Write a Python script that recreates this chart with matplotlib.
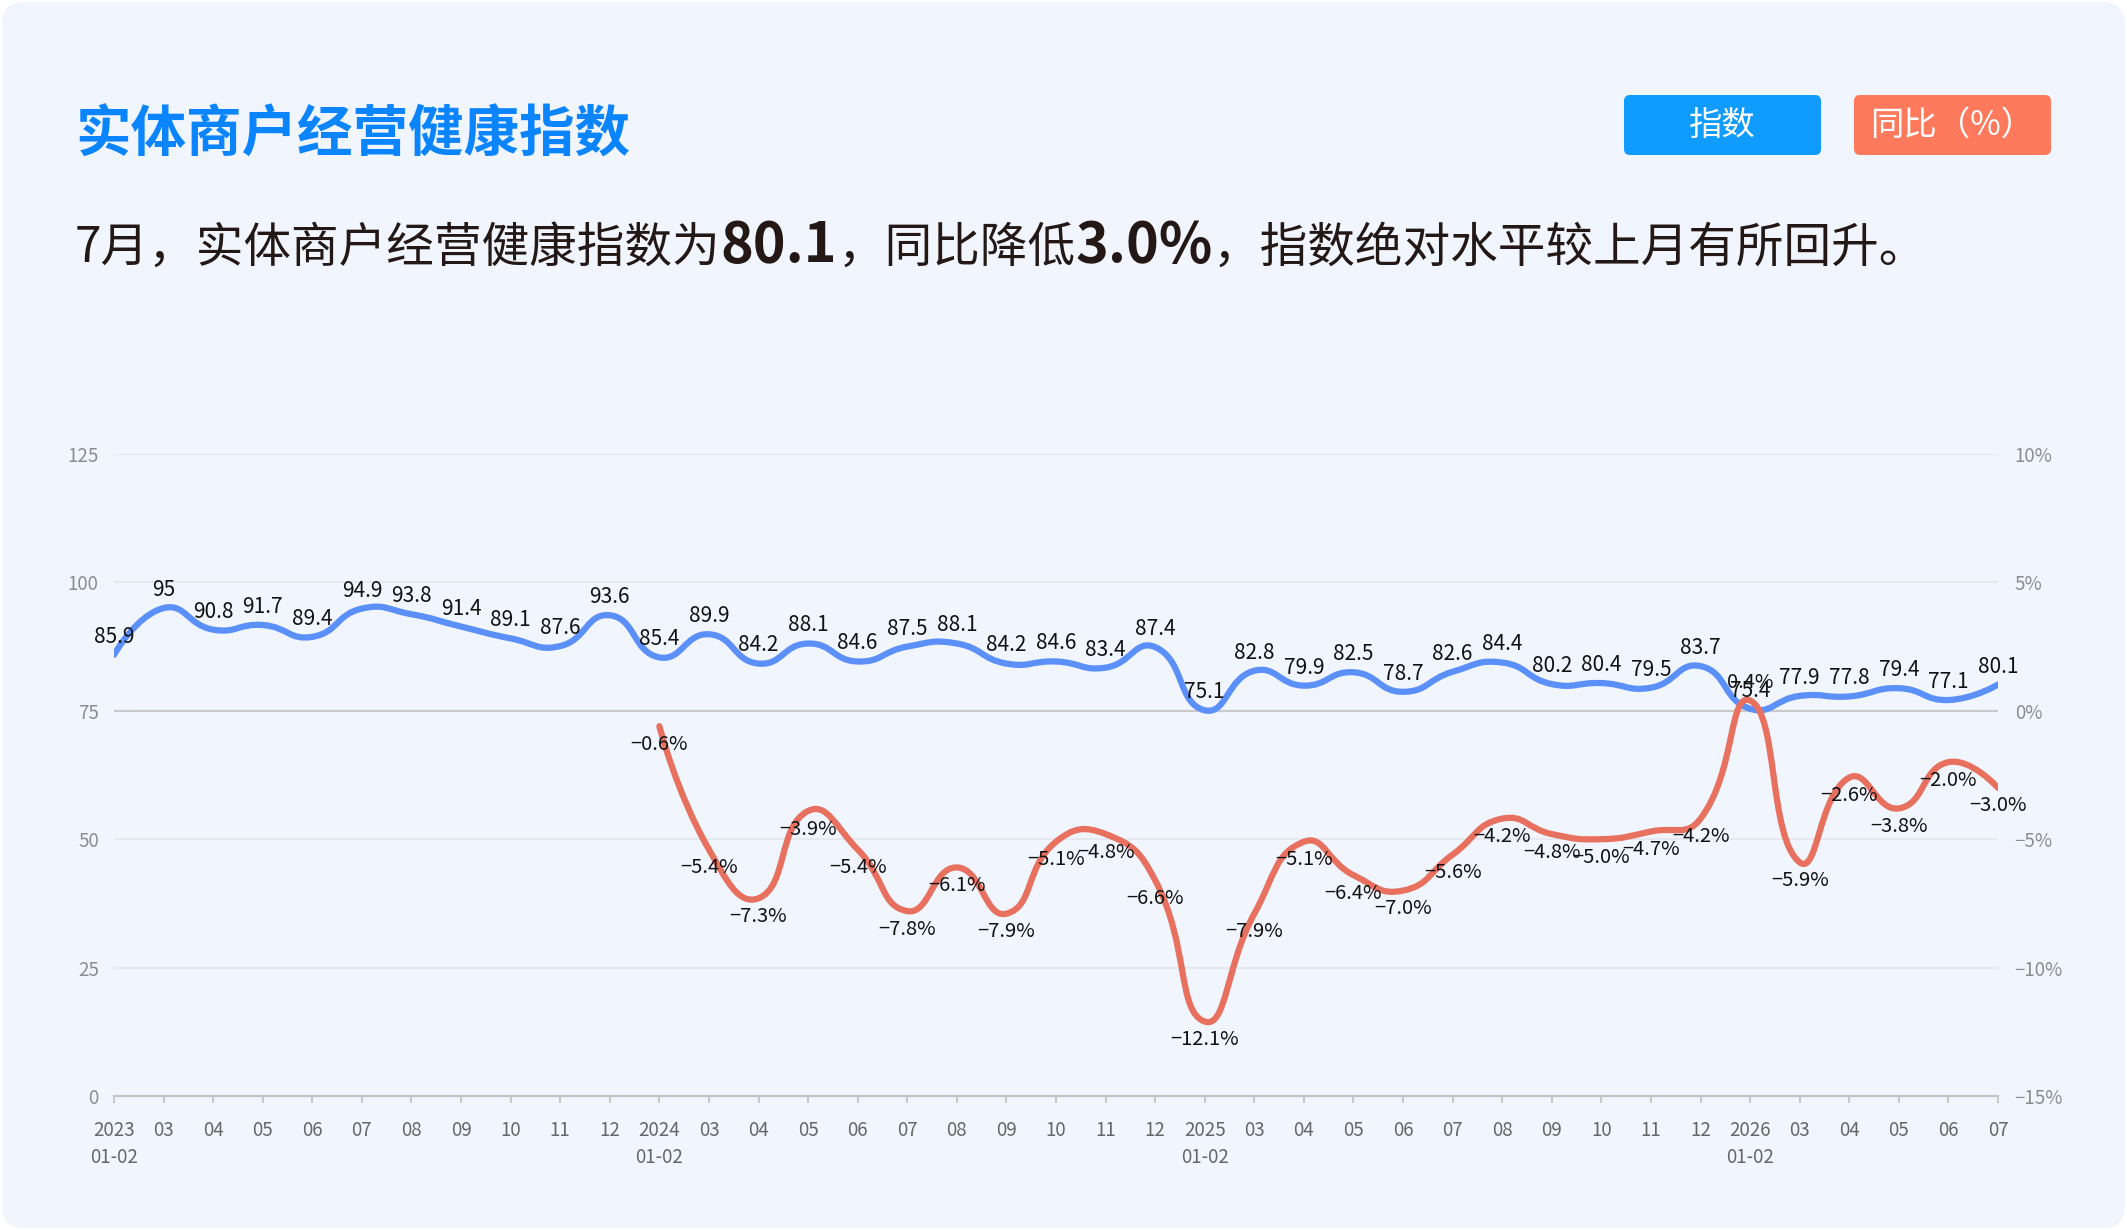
import matplotlib
matplotlib.use("Agg")
import matplotlib.pyplot as plt
import numpy as np
from matplotlib.patches import FancyBboxPatch, PathPatch
from matplotlib.path import Path
from matplotlib.transforms import IdentityTransform

plt.rcParams['font.family'] = ['Noto Sans CJK SC', 'DejaVu Sans']

# ---- data ----
months = ['2023\n01-02', '03', '04', '05', '06', '07', '08', '09', '10', '11', '12',
          '2024\n01-02', '03', '04', '05', '06', '07', '08', '09', '10', '11', '12',
          '2025\n01-02', '03', '04', '05', '06', '07', '08', '09', '10', '11', '12',
          '2026\n01-02', '03', '04', '05', '06', '07']
index_vals = [85.9, 95, 90.8, 91.7, 89.4, 94.9, 93.8, 91.4, 89.1, 87.6, 93.6,
              85.4, 89.9, 84.2, 88.1, 84.6, 87.5, 88.1, 84.2, 84.6, 83.4, 87.4,
              75.1, 82.8, 79.9, 82.5, 78.7, 82.6, 84.4, 80.2, 80.4, 79.5, 83.7,
              75.4, 77.9, 77.8, 79.4, 77.1, 80.1]
yoy_start = 11  # yoy series begins at 2024 01-02
yoy_vals = [-0.6, -5.4, -7.3, -3.9, -5.4, -7.8, -6.1, -7.9, -5.1, -4.8, -6.6,
            -12.1, -7.9, -5.1, -6.4, -7.0, -5.6, -4.2, -4.8, -5.0, -4.7, -4.2,
            0.4, -5.9, -2.6, -3.8, -2.0, -3.0]

BLUE = '#5B8FF9'
RED = '#E8705E'


def smooth_path(xs, ys, sx, sy, smooth=0.5):
    # bezier control points like echarts' smooth line, computed in pixel space
    px = np.asarray(xs, float) * sx
    py = np.asarray(ys, float) * sy
    n = len(px)
    verts = [(px[0], py[0])]
    codes = [Path.MOVETO]
    cp0 = (px[0], py[0])
    for i in range(1, n):
        x, y = px[i], py[i]
        prevx, prevy = px[i - 1], py[i - 1]
        if i + 1 < n:
            nx, ny = px[i + 1], py[i + 1]
            vx, vy = nx - prevx, ny - prevy
            lp = np.hypot(x - prevx, y - prevy)
            ln = np.hypot(nx - x, ny - y)
            r = ln / (ln + lp)
            ncp = (x - vx * smooth * (1 - r), y - vy * smooth * (1 - r))
        else:
            vx = vy = 0
            r = 0.5
            ncp = (x, y)
        verts += [cp0, ncp, (x, y)]
        codes += [Path.CURVE4] * 3
        cp0 = (x + vx * smooth * r, y + vy * smooth * r)
    verts = [(a / sx, b / sy) for a, b in verts]
    return Path(verts, codes)


W, H = 2127, 1230
fig = plt.figure(figsize=(W / 100, H / 100), dpi=100)
fig.patch.set_facecolor('white')

bg = FancyBboxPatch((2, 2), W - 4, H - 4, boxstyle="round,pad=0,rounding_size=22",
                    transform=IdentityTransform(), facecolor='#F1F5FD', edgecolor='none', zorder=-10)
fig.patches.append(bg)

# title
fig.text(75 / W, 1 - 136 / H, '实体商户经营健康指数', fontsize=40, fontweight='bold',
         color='#0A84FF', va='center', ha='left')

# subtitle assembled from pieces
renderer = fig.canvas.get_renderer()
pieces = [('7月，实体商户经营健康指数为', 34.3, 'medium'),
          ('80.1', 40, 'bold'),
          ('，同比降低', 34.3, 'medium'),
          ('3.0%', 40, 'bold'),
          ('，指数绝对水平较上月有所回升。', 34.3, 'medium')]
xpos = 75
for txt, fs, fw in pieces:
    t = fig.text(xpos / W, 1 - 262 / H, txt, fontsize=fs, fontweight=fw,
                 color='#231815', va='baseline', ha='left')
    xpos += t.get_window_extent(renderer=renderer).width

# legend buttons
for (x0, label, col) in [(1624, '指数', '#109BFF'), (1854, '同比（%）', '#FF7A5C')]:
    b = FancyBboxPatch((x0, H - 155), 197, 60, boxstyle="round,pad=0,rounding_size=6",
                       transform=IdentityTransform(), facecolor=col, edgecolor='none')
    fig.patches.append(b)
    fig.text((x0 + 98.5) / W, 1 - 125 / H, label, fontsize=24, color='white',
             ha='center', va='center')

# ---- chart ----
ax = fig.add_axes([114 / W, (H - 1096) / H, (1998 - 114) / W, (1096 - 454) / H])
ax.set_facecolor('none')
ax2 = ax.twinx()
ax2.set_facecolor('none')

x_all = np.arange(len(months))
ax.set_xlim(0, len(months) - 1)
ax.set_ylim(0, 125)
ax2.set_ylim(-15, 10)

for g in [25, 50, 100, 125]:
    ax.axhline(g, color='#E3E6EC', lw=1.2, zorder=1)
ax.axhline(75, color='#C9C9C9', lw=1.6, zorder=1)

for a in (ax, ax2):
    for s in ['top', 'left', 'right', 'bottom']:
        a.spines[s].set_visible(False)
ax.spines['bottom'].set_visible(True)
ax.spines['bottom'].set_color('#C4C4C4')
ax.spines['bottom'].set_linewidth(1.6)

ax.set_xticks(x_all)
ax.set_xticklabels(months, linespacing=1.4)
ax.tick_params(axis='x', length=5, width=1.3, color='#C4C4C4', pad=12,
               labelsize=13.5, labelcolor='#666666')
ax.set_yticks([0, 25, 50, 75, 100, 125])
ax.tick_params(axis='y', length=0, pad=11, labelsize=13.5, labelcolor='#8C8C8C')
ax2.set_yticks([-15, -10, -5, 0, 5, 10])
ax2.set_yticklabels([f'{v}%'.replace('-', '−') for v in [-15, -10, -5, 0, 5, 10]])
ax2.tick_params(axis='y', length=0, pad=12, labelsize=13.5, labelcolor='#8C8C8C')

# pixel scales for smoothing
sx = (1998 - 114) / (len(months) - 1)
sy1 = (1096 - 454) / 125
sy2 = (1096 - 454) / 25

p1 = smooth_path(x_all, index_vals, sx, sy1)
ax.add_patch(PathPatch(p1, fill=False, edgecolor=BLUE, lw=4.5, capstyle='round',
                       joinstyle='round', zorder=3))

x_yoy = np.arange(yoy_start, yoy_start + len(yoy_vals))
p2 = smooth_path(x_yoy, yoy_vals, sx, sy2)
ax2.add_patch(PathPatch(p2, fill=False, edgecolor=RED, lw=4.5, capstyle='round',
                        joinstyle='round', zorder=3))

for xi, v in zip(x_all, index_vals):
    ax2.annotate(f'{v:g}', (xi, (v - 75) / 5), xytext=(0, 13), textcoords='offset points',
                 ha='center', va='center', fontsize=15, color='#111111', zorder=5)
for xi, v in zip(x_yoy, yoy_vals):
    off = 13 if v >= 0 else -13
    ax2.annotate(f'{v:.1f}%'.replace('-', '−'), (xi, v), xytext=(0, off),
                 textcoords='offset points', ha='center', va='center', fontsize=14.5,
                 color='#111111', zorder=5)

fig.savefig('out.png', dpi=100, facecolor='white')
